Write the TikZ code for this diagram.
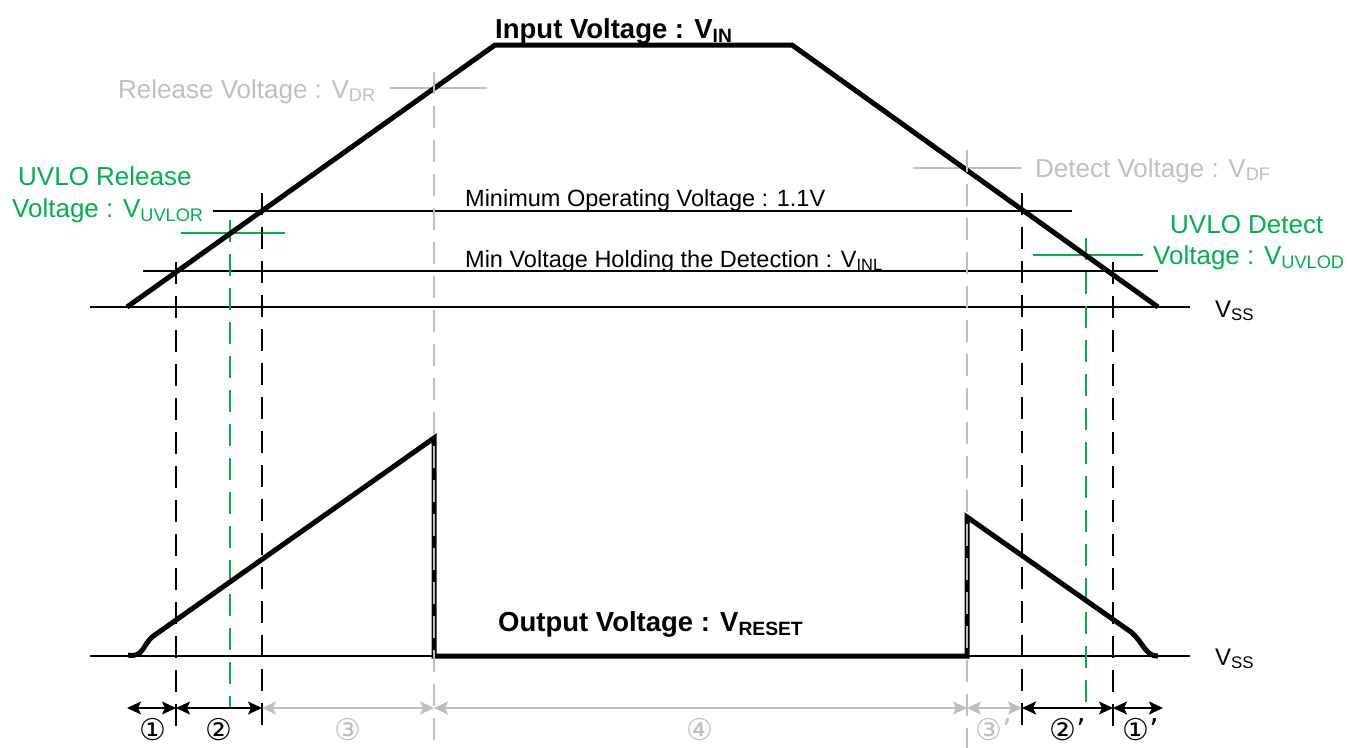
\documentclass[tikz,border=0pt]{standalone}
\usepackage{fontspec}
\setmainfont{Liberation Sans}
\newfontfamily\circfont{DejaVu Sans}
\usetikzlibrary{arrows.meta}
\definecolor{vgreen}{RGB}{0,176,80}
\definecolor{vgrey}{RGB}{191,191,191}
\begin{document}
\begin{tikzpicture}[x=1pt,y=-1pt,
  wave/.style={line width=5pt, line join=miter},
  thinline/.style={line width=1.8pt},
  dsh/.style={line width=2.2pt, dash pattern=on 22pt off 12pt},
  bigtxt/.style={inner sep=0pt, font=\fontsize{26}{30}\selectfont},
  midtxt/.style={inner sep=0pt, font=\fontsize{23.5}{28}\selectfont},
  boldtxt/.style={inner sep=0pt, font=\fontsize{27.5}{32}\selectfont\bfseries},
  vsstxt/.style={inner sep=0pt, font=\fontsize{24}{28}\selectfont},
  numtxt/.style={inner sep=0pt, font=\circfont\fontsize{30}{34}\selectfont},
  span/.style={line width=2pt, {Stealth[length=14pt,width=13pt,inset=3pt]}-{Stealth[length=14pt,width=13pt,inset=3pt]}},
]
\useasboundingbox (0,0) rectangle (1348,747);

% ---------- key points ----------
\coordinate (i0) at (127,307);
\coordinate (i1) at (495,45);
\coordinate (i2) at (792,45);
\coordinate (i3) at (1158,307);

% ---------- horizontal reference lines ----------
\coordinate (vss1L) at (90,307);  \coordinate (vss1R) at (1190,307);
\coordinate (vss2L) at (90,656);  \coordinate (vss2R) at (1190,656);
\coordinate (minL) at (213,211);  \coordinate (minR) at (1072,211);
\coordinate (inlL) at (143,271);  \coordinate (inlR) at (1158,271);
\draw[thinline] (vss1L) -- (vss1R);
\draw[thinline] (vss2L) -- (vss2R);
\draw[thinline] (minL) -- (minR);
\draw[thinline] (inlL) -- (inlR);

% grey release / detect marks
\coordinate (relL) at (390,88); \coordinate (relR) at (487,88);
\coordinate (detL) at (913,168); \coordinate (detR) at (1022,168);
\draw[thinline, vgrey] (relL) -- (relR);
\draw[thinline, vgrey] (detL) -- (detR);
% green UVLO marks
\coordinate (uvrL) at (181,233); \coordinate (uvrR) at (285,233);
\coordinate (uvdL) at (1033,255); \coordinate (uvdR) at (1143,255);
\draw[thinline, vgreen] (uvrL) -- (uvrR);
\draw[thinline, vgreen] (uvdL) -- (uvdR);

% ---------- vertical dashed lines ----------
\coordinate (d1t) at (176,262);  \coordinate (d1b) at (176,735);
\coordinate (d2t) at (262,193);  \coordinate (d2b) at (262,735);
\coordinate (g1t) at (230,220);  \coordinate (g1b) at (230,708);
\coordinate (r1t) at (434,72);   \coordinate (r1b) at (434,750);
\coordinate (r2t) at (967,150);  \coordinate (r2b) at (967,750);
\coordinate (d3t) at (1022,193); \coordinate (d3b) at (1022,735);
\coordinate (g2t) at (1086,238); \coordinate (g2b) at (1086,708);
\coordinate (d4t) at (1113,262); \coordinate (d4b) at (1113,735);
\draw[dsh] (d1t) -- (d1b);
\draw[dsh] (d2t) -- (d2b);
\draw[dsh] (d3t) -- (d3b);
\draw[dsh] (d4t) -- (d4b);
\draw[dsh, vgreen] (g1t) -- (g1b);
\draw[dsh, vgreen] (g2t) -- (g2b);

% ---------- input waveform ----------
\draw[wave] (i0) -- (i1) -- (i2) -- (i3);

% ---------- output waveform ----------
\coordinate (o0) at (128,655);
\coordinate (o1) at (152,637);
\coordinate (o2) at (434,438);
\coordinate (o3) at (434,656);
\coordinate (o4) at (967,656);
\coordinate (o5) at (967,517);
\coordinate (o6) at (1131,632);
\coordinate (o7) at (1158,656);
\draw[wave] (o0) .. controls (143,658) and (143,645) .. (o1) -- (o2) -- (o3) -- (o4) -- (o5) -- (o6)
  .. controls (1143,642) and (1146,657) .. (o7);

% grey dashed over everything
\draw[dsh, vgrey] (r1t) -- (r1b);
\draw[dsh, vgrey] (r2t) -- (r2b);

% ---------- span arrows ----------
\coordinate (a0) at (127,708);
\coordinate (a1) at (176,708);
\coordinate (a2) at (262,708);
\coordinate (a3) at (434,708);
\coordinate (a4) at (967,708);
\coordinate (a5) at (1022,708);
\coordinate (a6) at (1113,708);
\coordinate (a7) at (1163,708);
\draw[span] (a0) -- (a1);
\draw[span] (a1) -- (a2);
\draw[span, vgrey] (a2) -- (a3);
\draw[span, vgrey] (a3) -- (a4);
\draw[span, vgrey] (a4) -- (a5);
\draw[span] (a5) -- (a6);
\draw[span] (a6) -- (a7);

\node[numtxt] (n1) at (153,730) {①};
\node[numtxt] (n2) at (219,730) {②};
\node[numtxt, vgrey] (n3) at (348,730) {③};
\node[numtxt, vgrey] (n4) at (700,730) {④};
\node[numtxt, vgrey] (n3p) at (994,730) {③’};
\node[numtxt] (n2p) at (1068,730) {②’};
\node[numtxt] (n1p) at (1141,730) {①’};

% ---------- labels ----------
\node[boldtxt, anchor=base west] (tin) at (495,38) {Input Voltage : V\textsubscript{IN}};
\node[bigtxt, vgrey, anchor=base west] (trel) at (118,98) {Release Voltage : V\textsubscript{DR}};
\node[bigtxt, vgrey, anchor=base west] (tdet) at (1035,177) {Detect Voltage : V\textsubscript{DF}};
\node[bigtxt, vgreen, anchor=base west] (tuvr1) at (18,185) {UVLO Release};
\node[bigtxt, vgreen, anchor=base west] (tuvr2) at (12,217) {Voltage : V\textsubscript{UVLOR}};
\node[bigtxt, vgreen, anchor=base west] (tuvd1) at (1170,233) {UVLO Detect};
\node[bigtxt, vgreen, anchor=base west] (tuvd2) at (1153,264) {Voltage : V\textsubscript{UVLOD}};
\node[midtxt, anchor=base west] (tmin) at (465,206) {Minimum Operating Voltage : 1.1V};
\node[midtxt, anchor=base west] (tinl) at (465,267) {Min Voltage Holding the Detection : V\textsubscript{INL}};
\node[boldtxt, anchor=base west] (tout) at (498,631) {Output Voltage : V\textsubscript{RESET}};
\node[vsstxt, anchor=base west] (vss1) at (1215,317) {V\textsubscript{SS}};
\node[vsstxt, anchor=base west] (vss2) at (1215,665) {V\textsubscript{SS}};
\end{tikzpicture}
\end{document}
